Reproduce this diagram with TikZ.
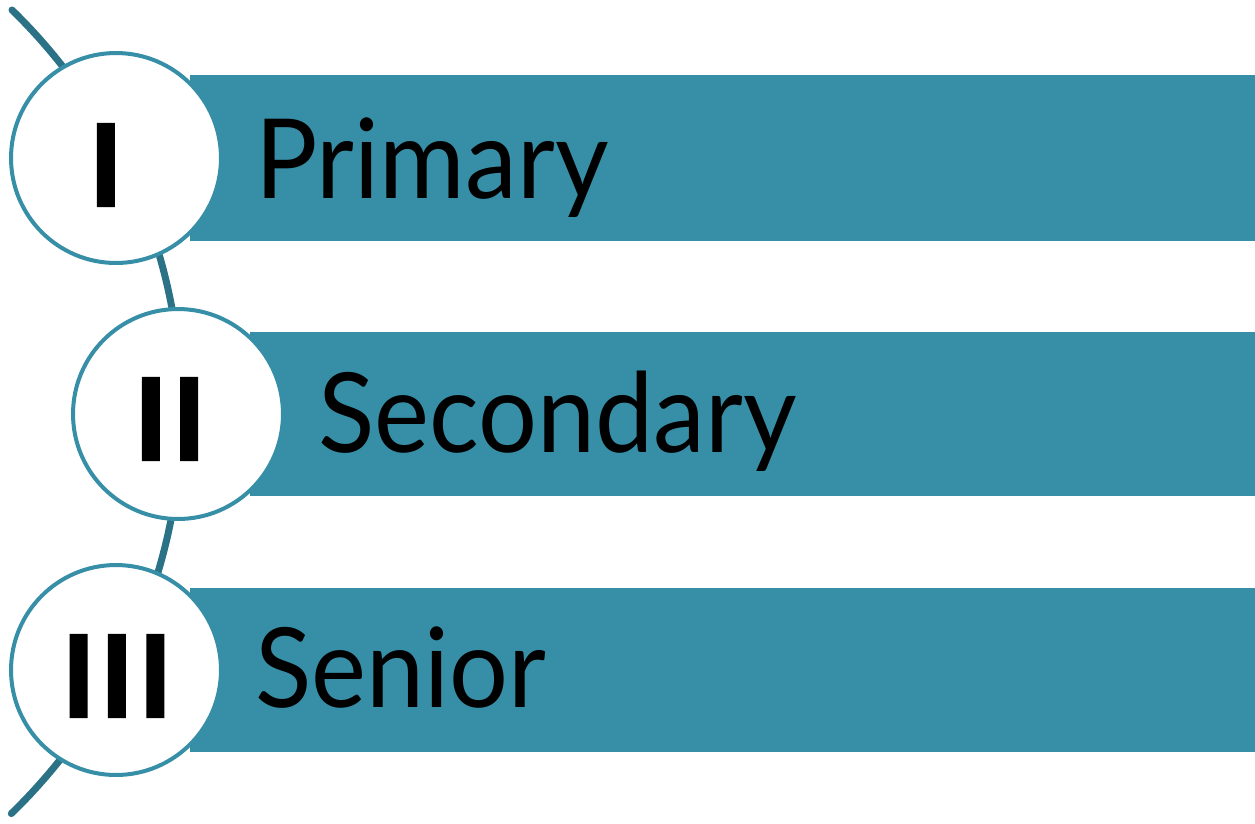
\documentclass[tikz,border=0pt]{standalone}
\usepackage{fontspec}
\setmainfont[FakeStretch=0.94]{Lato}
\newfontfamily\numfont[FakeBold=2.5,LetterSpace=4.5]{Lato Bold}
\definecolor{barteal}{HTML}{378FA7}
\definecolor{arcteal}{HTML}{2B7287}
\tikzset{
  bar/.style={fill=barteal, draw=none},
  numcircle/.style={circle, draw=barteal, line width=0.08cm, fill=white, minimum size=4.2cm, inner sep=0pt},
  numtext/.style={inner sep=0pt, font=\numfont\fontsize{64}{64}\selectfont},
  label/.style={inner sep=0pt, anchor=base west, font=\fontsize{63}{63}\selectfont},
  spine/.style={draw=arcteal, line width=0.14cm, line cap=round}
}
\begin{document}
\begin{tikzpicture}[x=0.02cm, y=-0.02cm]
\useasboundingbox (0,0) rectangle (1255,823);
% spine arc
\draw[spine] (12,10) arc[start angle=-45.8, end angle=45.9, radius=560];
% bars
\fill[bar] (190,75) rectangle (1255,241);
\fill[bar] (250,332) rectangle (1255,496);
\fill[bar] (190,588) rectangle (1255,752);
% circles
\node[numcircle] (c1) at (116,158) {};
\node[numcircle] (c2) at (178,414) {};
\node[numcircle] (c3) at (116,670) {};
% numerals
\node[numtext] (n1) at (106,165) {I};
\node[numtext] (n2) at (170,419) {II};
\node[numtext] (n3) at (117,676) {III};
% labels
\node[label] (t1) at (255,198) {Primary};
\node[label] (t2) at (318,452) {Secondary};
\node[label] (t3) at (255,707) {Senior};
\end{tikzpicture}
\end{document}
